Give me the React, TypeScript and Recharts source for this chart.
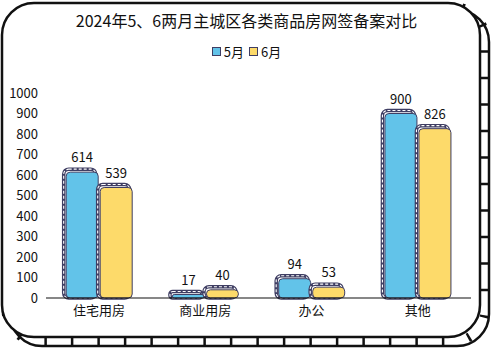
import React from 'react';
import { BarChart, Bar, XAxis, YAxis, LabelList } from 'recharts';

const categories = ['住宅用房', '商业用房', '办公', '其他'];
const mayValues = [614, 17, 94, 900];
const juneValues = [539, 40, 53, 826];
const yTicks = [0, 100, 200, 300, 400, 500, 600, 700, 800, 900, 1000];

const BLUE = '#62C3E9';
const YELLOW = '#FDDA6A';
const NAVY = '#3F3E63';
const FONT = '"Noto Sans CJK SC", "Noto Sans", sans-serif';

const data = categories.map((name, i) => ({
  name,
  may: mayValues[i],
  june: juneValues[i],
}));

// Bar with a hatched outline shifted up-left behind the fill
const HatchedBar = (props: any) => {
  const { x, y, width, height, fill } = props;
  if (width <= 0 || height < 0) return null;
  const r = Math.min(4, width / 2, Math.max(height, 1) / 2);
  return (
    <g>
      <rect x={x - 2.5} y={y - 3} width={width} height={height + 3} rx={r + 1} fill="none" stroke={NAVY} strokeWidth={3.5} />
      <rect x={x - 2.5} y={y - 3} width={width} height={height + 3} rx={r + 1} fill="none" stroke="#fff" strokeWidth={1.1} strokeDasharray="3 2" />
      <rect x={x} y={y} width={width} height={height} rx={r} fill={fill} stroke={NAVY} strokeWidth={1} />
    </g>
  );
};

// Hand-drawn style frame with a laddered shadow on the right and bottom
const Frame = () => (
  <svg width={493} height={357} style={{ position: 'absolute', left: 0, top: 0 }}>
    <rect x={10} y={10} width={479} height={336} rx={32} fill="none" stroke="#111" strokeWidth={2.5} />
    <rect x={6} y={6.5} width={479} height={335} rx={32} fill="none" stroke="#111" strokeWidth={9} strokeDasharray="2.5 24" />
    <rect x={2} y={3} width={478} height={334} rx={32} fill="#fff" stroke="#111" strokeWidth={2.5} />
  </svg>
);

const App: React.FC = () => {
  return (
    <div style={{ position: 'absolute', left: 0, top: 0, width: 493, height: 357, fontFamily: FONT }}>
      <Frame />
      <div style={{ position: 'absolute', left: 0, top: 8, width: 493, textAlign: 'center', fontSize: 16, color: '#111' }}>
        2024年5、6两月主城区各类商品房网签备案对比
      </div>
      <div style={{ position: 'absolute', left: 0, top: 42, width: 493, display: 'flex', justifyContent: 'center', alignItems: 'center', fontSize: 13, color: '#111' }}>
        <span style={{ width: 7, height: 7, background: BLUE, border: `1px solid ${NAVY}`, marginRight: 3 }} />
        <span style={{ marginRight: 5 }}>5月</span>
        <span style={{ width: 7, height: 7, background: YELLOW, border: `1px solid ${NAVY}`, marginRight: 3 }} />
        <span>6月</span>
      </div>
      <div style={{ position: 'absolute', left: 0, top: 0 }}>
        <BarChart
          width={493}
          height={357}
          data={data}
          margin={{ top: 93, right: 22, bottom: 29, left: 6 }}
          barCategoryGap="19%"
          barGap={2}
        >
          <XAxis
            dataKey="name"
            axisLine={{ stroke: '#111', strokeWidth: 1.2 }}
            tickLine={false}
            height={30}
            tick={{ fill: '#111', fontSize: 13, fontFamily: FONT }}
          />
          <YAxis
            domain={[0, 1000]}
            ticks={yTicks}
            interval={0}
            axisLine={false}
            tickLine={false}
            width={40}
            tick={{ fill: '#111', fontSize: 13, fontFamily: FONT }}
          />
          <Bar dataKey="may" fill={BLUE} shape={HatchedBar} isAnimationActive={false}>
            <LabelList dataKey="may" position="top" offset={10} fill="#111" fontSize={13} fontFamily={FONT} />
          </Bar>
          <Bar dataKey="june" fill={YELLOW} shape={HatchedBar} isAnimationActive={false}>
            <LabelList dataKey="june" position="top" offset={10} fill="#111" fontSize={13} fontFamily={FONT} />
          </Bar>
        </BarChart>
      </div>
    </div>
  );
};

export default App;
